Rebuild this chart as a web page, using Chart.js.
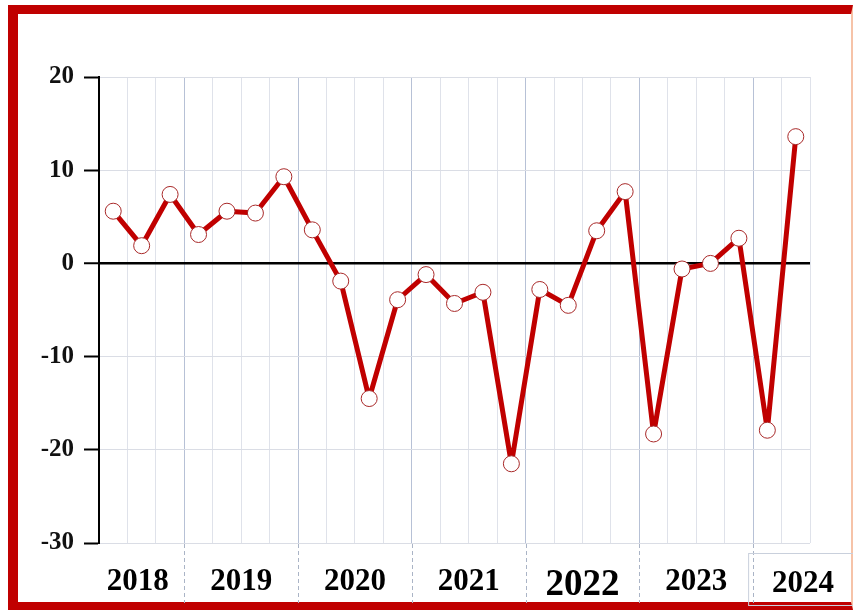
<!DOCTYPE html>
<html>
<head>
<meta charset="utf-8">
<script src="https://cdn.jsdelivr.net/npm/chart.js@4.4.1/dist/chart.umd.min.js"></script>
<style>
  html, body { margin: 0; padding: 0; background: #fff; }
  #frame {
    position: absolute; left: 8px; top: 5px; width: 845px; height: 605px;
    box-sizing: border-box;
    border-left: 10px solid #c00000; border-top: 9px solid #c00000;
    border-bottom: 8px solid #c00000; border-right: 2px solid #f6c3a8;
  }
  #wrap { position: absolute; left: 0; top: 0; width: 853px; height: 610px; }
</style>
</head>
<body>
<div id="frame"></div>
<div id="wrap"><canvas id="myChart" width="853" height="610"></canvas></div>
<script>
var quarters = ['2018Q2','2018Q3','2018Q4',
  '2019Q1','2019Q2','2019Q3','2019Q4',
  '2020Q1','2020Q2','2020Q3','2020Q4',
  '2021Q1','2021Q2','2021Q3','2021Q4',
  '2022Q1','2022Q2','2022Q3','2022Q4',
  '2023Q1','2023Q2','2023Q3','2023Q4',
  '2024Q1','2024Q2'];
var values = [5.6, 1.9, 7.4, 3.1, 5.6, 5.4, 9.3, 3.6, -1.9, -14.5, -3.9, -1.2,
  -4.3, -3.1, -21.5, -2.8, -4.5, 3.5, 7.7, -18.3, -0.6, 0.0, 2.7, -17.9, 13.6];
var years = ['2018', '2019', '2020', '2021', '2022', '2023', '2024'];
var quartersPerYear = [3, 4, 4, 4, 4, 4, 2];
var yTicks = [-30, -20, -10, 0, 10, 20];

// index of first quarter of every year
var yearStarts = [];
var acc = 0;
quartersPerYear.forEach(function (n) { yearStarts.push(acc); acc += n; });

var serif = "'Liberation Serif', 'Times New Roman', serif";

var yearLabels = {
  id: 'yearLabels',
  afterDraw: function (chart) {
    var ctx = chart.ctx;
    var x = chart.scales.x;
    var area = chart.chartArea;
    var half = (x.getPixelForValue(1) - x.getPixelForValue(0)) / 2;
    ctx.save();
    // dashed separators under the plot
    ctx.strokeStyle = '#aab4c6';
    ctx.lineWidth = 1;
    ctx.setLineDash([4, 3]);
    yearStarts.slice(1).forEach(function (s) {
      var px = Math.round(x.getPixelForValue(s) - half) + 0.5;
      ctx.beginPath();
      ctx.moveTo(px, area.bottom + 1);
      ctx.lineTo(px, 603);
      ctx.stroke();
    });
    ctx.setLineDash([]);
    ctx.fillStyle = '#000';
    ctx.textAlign = 'center';
    ctx.textBaseline = 'alphabetic';
    years.forEach(function (y, i) {
      var first = yearStarts[i];
      var last = first + quartersPerYear[i] - 1;
      var left = x.getPixelForValue(first) - half;
      var right = x.getPixelForValue(last) + half;
      var size = 31, base = 590;
      if (y === '2022') { size = 37; base = 595; }
      if (i === years.length - 1) {
        // last year sits in its own little box
        ctx.strokeStyle = '#c9d0dc';
        ctx.strokeRect(left - 4.5, 553.5, 860 - left, 52);
        right = 853;
        base = 592;
      }
      ctx.font = 'bold ' + size + 'px ' + serif;
      ctx.fillText(y, (left + right) / 2 - (i === 0 ? 4 : 0), base);
    });
    ctx.restore();
  }
};

var ctx = document.getElementById('myChart').getContext('2d');
var chart = new Chart(ctx, {
  type: 'line',
  data: {
    labels: quarters,
    datasets: [{
      data: values,
      borderColor: '#c00000',
      borderWidth: 5,
      borderJoinStyle: 'round',
      pointRadius: 8,
      pointHoverRadius: 8,
      pointBackgroundColor: '#ffffff',
      pointBorderColor: '#a82828',
      pointBorderWidth: 1,
      tension: 0
    }]
  },
  options: {
    responsive: false,
    animation: false,
    layout: { padding: { left: 0, top: 77, right: 43, bottom: 67 } },
    plugins: { legend: { display: false }, tooltip: { enabled: false } },
    scales: {
      x: {
        offset: true,
        border: { display: false },
        grid: {
          offset: true,
          drawTicks: false,
          color: function (c) {
            return yearStarts.indexOf(c.index) > 0 ? '#b7c1d6' : '#dfe2ea';
          },
          lineWidth: 1
        },
        ticks: { display: false }
      },
      y: {
        min: -30,
        max: 20,
        afterFit: function (s) { s.width = 99; },
        afterBuildTicks: function (s) { s.ticks = yTicks.map(function (v) { return { value: v }; }); },
        border: { display: true, color: '#000', width: 2 },
        grid: {
          color: function (c) { return c.tick && c.tick.value === 0 ? '#000' : '#dadde5'; },
          lineWidth: function (c) { return c.tick && c.tick.value === 0 ? 2.5 : 1; },
          tickColor: '#000',
          tickLength: 15,
          tickWidth: 2
        },
        ticks: {
          padding: 10,
          color: '#111',
          font: { family: serif, size: 25, weight: 'bold' }
        }
      }
    }
  },
  plugins: [yearLabels]
});
</script>
</body>
</html>
